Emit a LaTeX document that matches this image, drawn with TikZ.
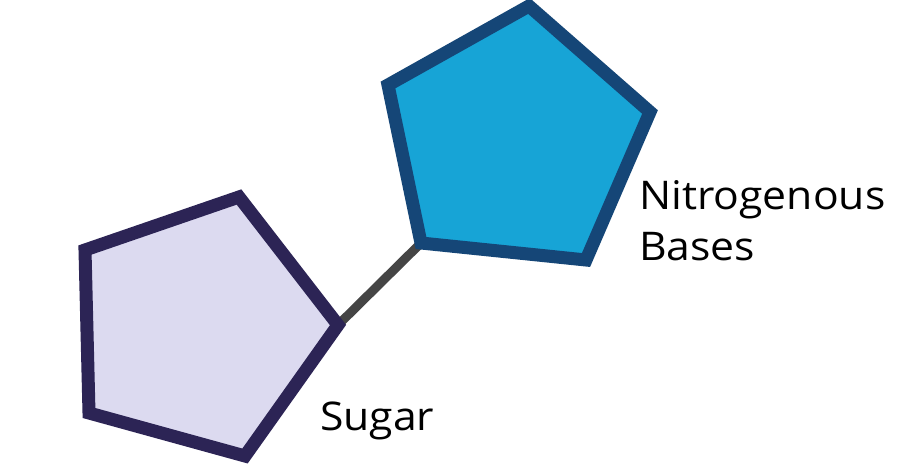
\documentclass[tikz,border=0pt]{standalone}
\usepackage{fontspec}
\setmainfont{Open Sans}
\definecolor{sugarfill}{HTML}{DCDAF0}
\definecolor{sugarline}{HTML}{2C2455}
\definecolor{basefill}{HTML}{17A4D6}
\definecolor{baseline}{HTML}{154677}
\definecolor{linkgray}{HTML}{454545}
\tikzset{
  ring/.style={line width=13pt, line join=miter},
  link/.style={line width=9pt, draw=linkgray},
  label/.style={anchor=base west, inner sep=0pt, font=\fontsize{39.5}{46}\selectfont, xscale=1.08, text=black}
}
\begin{document}
\begin{tikzpicture}[x=1pt,y=-1pt]
\useasboundingbox[fill=white] (0,0) rectangle (907,473);
% sugar ring vertices
\coordinate (s1) at (85,250);
\coordinate (s2) at (239,197);
\coordinate (s3) at (338,325);
\coordinate (s4) at (245,456);
\coordinate (s5) at (89,413);
% base ring vertices
\coordinate (b1) at (388,85);
\coordinate (b2) at (529,6);
\coordinate (b3) at (650,112);
\coordinate (b4) at (586,260);
\coordinate (b5) at (421,243);
\draw[link] (s3) -- (b5);
\draw[ring, fill=sugarfill, draw=sugarline] (s1) -- (s2) -- (s3) -- (s4) -- (s5) -- cycle;
\draw[ring, fill=basefill, draw=baseline] (b1) -- (b2) -- (b3) -- (b4) -- (b5) -- cycle;
\node[label] (nb1) at (639,210) {Nitrogenous};
\node[label] (nb2) at (639,260) {Bases};
\node[label] (sg) at (320,430) {Sugar};
\end{tikzpicture}
\end{document}
